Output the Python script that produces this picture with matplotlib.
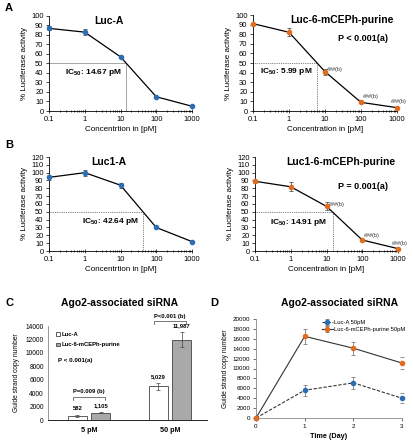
import matplotlib
matplotlib.use("Agg")
import matplotlib.pyplot as plt
import numpy as np

plt.rcParams['font.family'] = ['Liberation Sans', 'DejaVu Sans']
plt.rcParams['mathtext.fontset'] = 'custom'
plt.rcParams['mathtext.rm'] = 'Liberation Sans'
plt.rcParams['mathtext.bf'] = 'Liberation Sans:bold'
plt.rcParams['axes.linewidth'] = 0.6

W, H = 413, 440

# ---- data: dose response (A, B) ----
conc = [0.1, 1, 10, 100, 1000]

luc_a = [87, 83, 57, 15, 5]
luc_a_err = [2, 3, 1, 1, 1]
luc_a_ic50 = 14.67

luc6 = [91, 82, 41, 9, 3.5]
luc6_err = [1, 4, 3, 1, 1]
luc6_ic50 = 5.99

luc1_a = [94, 100, 84, 30, 12]
luc1_a_err = [3, 4, 3, 1, 1]
luc1_a_ic50 = 42.64

luc1_6 = [89, 82, 57, 14, 3]
luc1_6_err = [2, 6, 5, 1, 1]
luc1_6_ic50 = 14.91

# ---- data: Ago2 bar chart (C) ----
groups = ['5 pM', '50 pM']
bar_luc_a = [582, 5029]
bar_luc_a_err = [120, 500]
bar_luc6 = [1105, 11987]
bar_luc6_err = [60, 1100]
bar_labels_a = ['582', '5,029']
bar_labels_6 = ['1,105', '11,987']

# ---- data: time course (D) ----
days = [0, 1, 2, 3]
time_luc_a = [0, 5600, 7100, 4000]
time_luc_a_err = [0, 1100, 1200, 1000]
time_luc6 = [0, 16500, 14100, 11100]
time_luc6_err = [0, 1500, 1300, 1200]

BLUE = '#2e6db4'
ORANGE = '#e06c1e'
GRAY_BAR = '#a9a9a9'


def px_axes(fig, left, top, right, bottom):
    return fig.add_axes([left / W, 1 - bottom / H, (right - left) / W, (bottom - top) / H])


def dose_panel(ax, y, yerr, ic50, color, ymax, title, title_x, xlabel, ic_text_xy,
               dotted=True, pval=None, pval_xy=None, hash_pos=None):
    ax.errorbar(conc, y, yerr=yerr, color='black', lw=0.9, marker='o', ms=3,
                mfc=color, mec=color, ecolor='#555555', elinewidth=0.6,
                capsize=1.5, capthick=0.6, zorder=3)
    ls = (0, (1, 1.2)) if dotted else '-'
    lc = '#555555' if dotted else '#999999'
    ax.plot([0.1, ic50], [50, 50], color=lc, lw=0.6, ls=ls, zorder=1)
    ax.plot([ic50, ic50], [0, 50], color=lc, lw=0.6, ls=ls, zorder=1)
    for line in ax.lines:
        line.set_clip_on(False)
    ax.set_xscale('log')
    ax.set_xlim(0.1, 1000)
    ax.set_ylim(0, ymax)
    ax.set_yticks(np.arange(0, ymax + 1, 10))
    ax.set_xticks([0.1, 1, 10, 100, 1000])
    ax.set_xticklabels(['0.1', '1', '10', '100', '1000'])
    ax.tick_params(axis='both', labelsize=5.4, length=2, width=0.5, pad=2)
    ax.tick_params(axis='x', which='both', direction='inout', length=3)
    ax.tick_params(axis='x', which='minor', length=2, width=0.5)
    for s in ['top', 'right']:
        ax.spines[s].set_visible(False)
    ax.set_xlabel(xlabel, fontsize=5.8, labelpad=2)
    ax.set_ylabel('% Luciferase activity', fontsize=5.8, labelpad=2)
    ax.text(title_x, 1.0, title, transform=ax.transAxes, ha='center', va='top',
            fontsize=7.5, fontweight='bold')
    ax.text(ic_text_xy[0], ic_text_xy[1], 'IC$_{\\mathbf{50}}$: %.2f pM' % ic50,
            fontsize=6, fontweight='bold', ha='left', va='center')
    if pval:
        ax.text(pval_xy[0], pval_xy[1], pval, fontsize=6.5, fontweight='bold',
                ha='left', va='center')
    if hash_pos:
        for xx, yy in hash_pos:
            ax.text(xx, yy, '###(b)', fontsize=4, color='#333333',
                    ha='left', va='center', clip_on=False)


fig = plt.figure(figsize=(W / 100, H / 100), dpi=100)

# A
ax = px_axes(fig, 49, 16, 192, 111)
dose_panel(ax, luc_a, luc_a_err, luc_a_ic50, BLUE, 100, 'Luc-A', 0.42,
           'Concentrtion in [pM]', (0.28, 41), dotted=False)
ax = px_axes(fig, 253, 15, 397, 111)
dose_panel(ax, luc6, luc6_err, luc6_ic50, ORANGE, 100, 'Luc-6-mCEPh-purine', 0.62,
           'Concentration in [pM]', (0.155, 41), pval='P < 0.001(a)',
           pval_xy=(23, 76), hash_pos=[(11.5, 43), (115, 15.5), (700, 9.5)])

# B
ax = px_axes(fig, 49, 157, 192, 251)
dose_panel(ax, luc1_a, luc1_a_err, luc1_a_ic50, BLUE, 120, 'Luc1-A', 0.42,
           'Concentrtion in [pM]', (0.83, 38))
ax = px_axes(fig, 255, 157, 398, 251)
dose_panel(ax, luc1_6, luc1_6_err, luc1_6_ic50, ORANGE, 120, 'Luc1-6-mCEPh-purine', 0.60,
           'Concentration in [pM]', (0.26, 37), pval='P = 0.001(a)',
           pval_xy=(21, 82), hash_pos=[(11.5, 59), (115, 20), (700, 10)])

# C
axc = px_axes(fig, 48, 326, 207, 420)
xg = np.arange(len(groups))
bw = 0.23
off = 0.143
err_style = dict(elinewidth=0.5, capsize=1.5, capthick=0.5, ecolor='#444444')
axc.bar(xg - off, bar_luc_a, bw, yerr=bar_luc_a_err, color='white',
        edgecolor='#444444', lw=0.6, error_kw=err_style, label='Luc-A')
axc.bar(xg + off, bar_luc6, bw, yerr=bar_luc6_err, color=GRAY_BAR,
        edgecolor='#444444', lw=0.6, error_kw=err_style, label='Luc-6-mCEPh-purine')
for i in range(len(groups)):
    axc.text(xg[i] - off, bar_luc_a[i] + bar_luc_a_err[i] + 600, bar_labels_a[i],
             ha='center', va='bottom', fontsize=4.2, fontweight='bold')
    axc.text(xg[i] + off, bar_luc6[i] + bar_luc6_err[i] + 600, bar_labels_6[i],
             ha='center', va='bottom', fontsize=4.2, fontweight='bold')
# significance brackets
for i, (yb, txt) in enumerate([(3450, 'P=0.009 (b)'), (14750, 'P<0.001 (b)')]):
    x0, x1 = xg[i] - off - 0.05, xg[i] + off + 0.05
    axc.plot([x0, x0, x1, x1], [yb - 500, yb, yb, yb - 500], color='#444444',
             lw=0.5, clip_on=False)
    axc.text(xg[i], yb + 350, txt, ha='center', va='bottom', fontsize=4.2,
             fontweight='bold', clip_on=False)
axc.set_xlim(-0.506, 1.457)
axc.set_ylim(0, 14000)
axc.set_yticks(np.arange(0, 14001, 2000))
axc.set_xticks(xg)
axc.set_xticklabels(groups, fontweight='bold')
axc.tick_params(axis='y', labelsize=4.8, length=0, pad=3)
axc.tick_params(axis='x', labelsize=5.2, length=0, pad=5)
for s in ['top', 'right']:
    axc.spines[s].set_visible(False)
axc.spines['left'].set_color('#888888')
axc.set_ylabel('Guide strand copy number', fontsize=4.8, labelpad=4)
axc.legend(loc='upper left', bbox_to_anchor=(0.02, 0.99), frameon=False,
           handlelength=0.6, handleheight=0.6, handletextpad=0.3, labelspacing=0.9,
           prop=dict(size=4.2, weight='bold'))
axc.text(0.06, 0.63, 'P < 0.001(a)', transform=axc.transAxes, fontsize=4.5,
         fontweight='bold', ha='left', va='center')

# D
axd = px_axes(fig, 256, 319, 402, 418)
axd.errorbar(days, time_luc_a, yerr=time_luc_a_err, color='#333333', ls=(0, (3, 1.5)),
             lw=0.8, marker='o', ms=3, mfc=BLUE, mec=BLUE, ecolor='#666666',
             elinewidth=0.5, capsize=1.5, capthick=0.5, label='Luc-A 50pM', zorder=3)
axd.errorbar(days, time_luc6, yerr=time_luc6_err, color='#333333', ls='-',
             lw=0.8, marker='o', ms=3, mfc=ORANGE, mec=ORANGE, ecolor='#666666',
             elinewidth=0.5, capsize=1.5, capthick=0.5,
             label='Luc-6-mCEPh-purine 50pM', zorder=3)
for line in axd.lines:
    line.set_clip_on(False)
axd.set_xlim(0, 3)
axd.set_ylim(0, 20000)
axd.set_yticks(np.arange(0, 20001, 2000))
axd.set_xticks(days)
axd.tick_params(axis='both', labelsize=4.5, length=2, width=0.4, pad=2)
for s in ['top', 'right']:
    axd.spines[s].set_visible(False)
for s in ['left', 'bottom']:
    axd.spines[s].set_color('#888888')
axd.set_ylabel('Guide strand copy number', fontsize=4.8, labelpad=3)
axd.set_xlabel('Time (Day)', fontsize=5.2, fontweight='bold', labelpad=3)
axd.legend(loc='upper right', bbox_to_anchor=(1.06, 1.04), fontsize=4.2, frameon=False,
           handlelength=1.8, handletextpad=0.3, labelspacing=0.3)

# titles and panel letters
fig.text(120 / W, 1 - 303 / H, 'Ago2-associated siRNA', ha='center', va='center',
         fontsize=7.5, fontweight='bold')
fig.text(340 / W, 1 - 303 / H, 'Ago2-associated siRNA', ha='center', va='center',
         fontsize=7.5, fontweight='bold')
for lab, x, y in [('A', 5, 8), ('B', 5, 145), ('C', 5, 303), ('D', 210, 303)]:
    fig.text(x / W, 1 - y / H, lab, ha='left', va='center', fontsize=8, fontweight='bold')

fig.savefig('out.png', dpi=100)
